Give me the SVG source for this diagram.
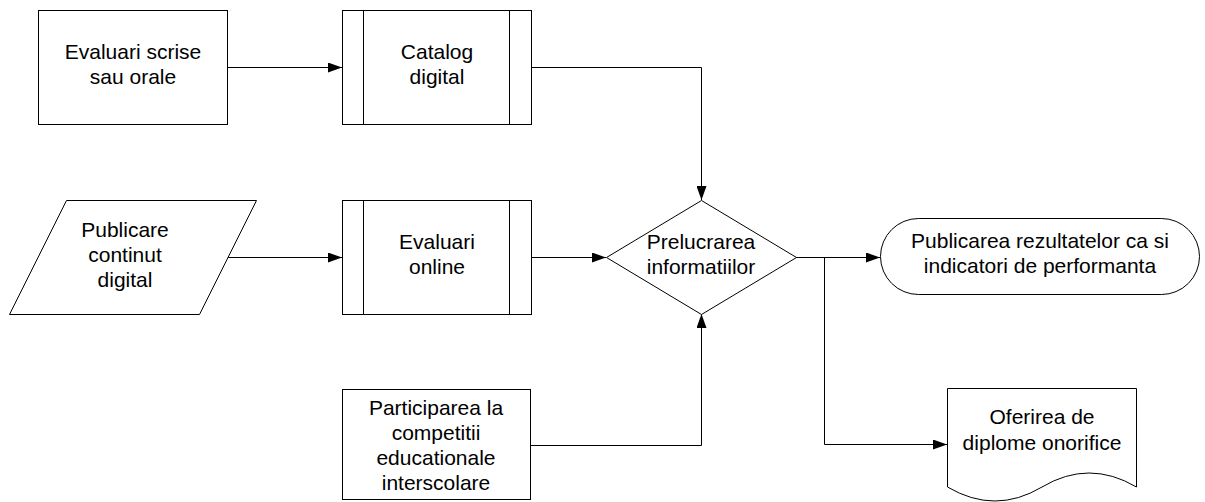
<svg xmlns="http://www.w3.org/2000/svg" width="1205" height="502" viewBox="0 0 1205 502">
<defs>
<style>
.s{fill:#fff;stroke:#000;stroke-width:1}
.l{fill:none;stroke:#000;stroke-width:1}
.c{fill:none;stroke:#000;stroke-width:1;marker-end:url(#arr)}
text{font-family:"Liberation Sans",Arial,sans-serif;font-size:21px;fill:#000;text-anchor:middle}
</style>
<marker id="arr" markerWidth="14" markerHeight="10" refX="14" refY="5" orient="auto" markerUnits="userSpaceOnUse"><path d="M0,0 L14,5 L0,10 z" fill="#000"/></marker>
</defs>
<rect width="1205" height="502" fill="#fff"/>
<g id="connectors">
<path class="c" d="M227,67.5 H342"/>
<path class="c" d="M531,67.5 H701.5 V200"/>
<path class="c" d="M227.5,257.5 H342"/>
<path class="c" d="M531,257.5 H606"/>
<path class="c" d="M796,257.5 H880"/>
<path class="c" d="M824.5,257.5 V444.5 H947"/>
<path class="c" d="M530,445.5 H701.5 V314"/>
</g>
<g id="n1">
<rect class="s" x="38.5" y="10.5" width="189" height="114"/>
<text x="133" y="59">Evaluari scrise</text>
<text x="133" y="84">sau orale</text>
</g>
<g id="n2">
<rect class="s" x="342.5" y="10.5" width="189" height="114"/>
<path class="l" d="M363.5,10.5 V124.5 M509.5,10.5 V124.5"/>
<text x="437" y="59">Catalog</text>
<text x="437" y="84">digital</text>
</g>
<g id="n3">
<path class="s" d="M66.5,200.5 H256.5 L199.5,314.5 H9.5 Z"/>
<text x="125" y="236.5">Publicare</text>
<text x="125" y="261.5">continut</text>
<text x="125" y="286.5">digital</text>
</g>
<g id="n4">
<rect class="s" x="342.5" y="200.5" width="189" height="114"/>
<path class="l" d="M363.5,200.5 V314.5 M509.5,200.5 V314.5"/>
<text x="437" y="249">Evaluari</text>
<text x="437" y="274">online</text>
</g>
<g id="n5">
<path class="s" d="M701.5,200.5 L796.5,257.5 L701.5,314.5 L606.5,257.5 Z"/>
<text x="701" y="249">Prelucrarea</text>
<text x="701" y="274">informatiilor</text>
</g>
<g id="n6">
<rect class="s" x="880.5" y="218.5" width="319" height="76" rx="38" ry="38"/>
<text x="1040" y="248">Publicarea rezultatelor ca si</text>
<text x="1040" y="273">indicatori de performanta</text>
</g>
<g id="n7">
<rect class="s" x="342.5" y="389.5" width="188" height="110"/>
<text x="436" y="415">Participarea la</text>
<text x="436" y="440">competitii</text>
<text x="436" y="465">educationale</text>
<text x="436" y="490">interscolare</text>
</g>
<g id="n8">
<path class="s" d="M947.5,388.5 H1136.5 V487 Q1089,459 1042,487 Q995,515 947.5,487 Z"/>
<text x="1042" y="424">Oferirea de</text>
<text x="1042" y="450">diplome onorifice</text>
</g>
</svg>
